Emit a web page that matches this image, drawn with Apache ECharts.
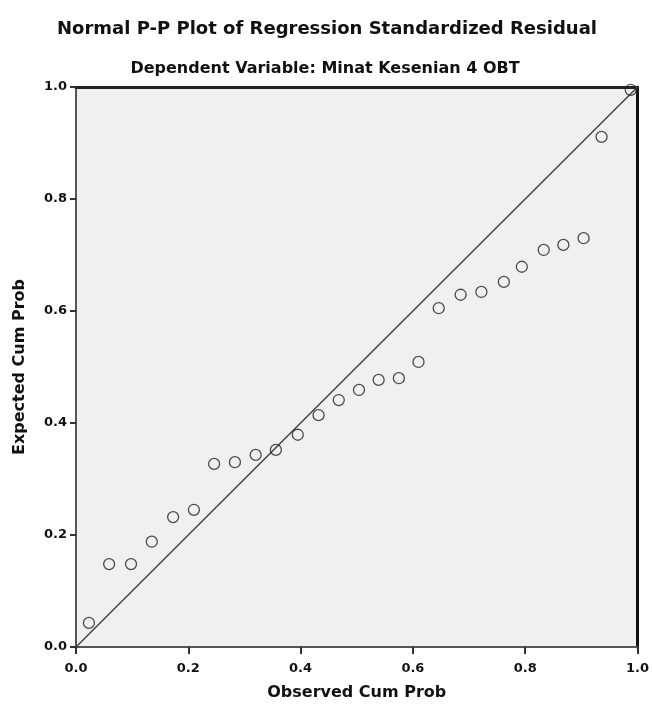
<!DOCTYPE html>
<html>
<head>
<meta charset="utf-8">
<script src="https://cdn.jsdelivr.net/npm/echarts@6/dist/echarts.min.js"></script>
<style>
  html, body { margin: 0; padding: 0; background: #fff; }
  #chart { width: 652px; height: 717px; }
</style>
</head>
<body>
<div id="chart"></div>
<script>
// Normal P-P plot: observed vs expected cumulative probability of the residuals
const observedCumProb = [0.023, 0.059, 0.098, 0.135, 0.173, 0.210, 0.246, 0.283, 0.320,
  0.356, 0.395, 0.432, 0.468, 0.504, 0.539, 0.575, 0.610, 0.646, 0.685, 0.722,
  0.762, 0.794, 0.833, 0.868, 0.904, 0.936, 0.988];
const expectedCumProb = [0.043, 0.148, 0.148, 0.188, 0.232, 0.245, 0.327, 0.330, 0.343,
  0.352, 0.379, 0.414, 0.441, 0.459, 0.477, 0.480, 0.509, 0.605, 0.629, 0.634,
  0.652, 0.679, 0.709, 0.718, 0.730, 0.911, 0.995];
const tickValues = [0.0, 0.2, 0.4, 0.6, 0.8, 1.0];
const diagonal = [[0, 0], [1, 1]];

const points = observedCumProb.map((x, i) => [x, expectedCumProb[i]]);
const fmt = v => Number(v).toFixed(1);
const FONT = '"DejaVu Sans", Arial, sans-serif';

const chart = echarts.init(document.getElementById('chart'));
chart.setOption({
  backgroundColor: '#ffffff',
  animation: false,
  title: [
    {
      text: 'Normal P-P Plot of Regression Standardized Residual',
      left: 322, top: 15, textAlign: 'center',
      textStyle: { fontFamily: FONT, fontSize: 18, fontWeight: 'bold', color: '#111' }
    },
    {
      text: 'Dependent Variable: Minat Kesenian 4 OBT',
      left: 320, top: 56, textAlign: 'center',
      textStyle: { fontFamily: FONT, fontSize: 16, fontWeight: 'bold', color: '#111' }
    }
  ],
  grid: { left: 76, right: 13, top: 87, bottom: 70, show: true, backgroundColor: '#f0f0f0', borderWidth: 0 },
  xAxis: [
    {
      type: 'value', min: 0, max: 1, interval: 0.2,
      name: 'Observed Cum Prob', nameLocation: 'middle', nameGap: 38,
      nameTextStyle: { fontFamily: FONT, fontSize: 16, fontWeight: 'bold', color: '#111' },
      axisLine: { show: true, lineStyle: { color: '#555', width: 2 } },
      axisTick: { show: true, length: 7, lineStyle: { color: '#333', width: 2 } },
      axisLabel: { formatter: fmt, fontFamily: FONT, fontSize: 13, fontWeight: 'bold', color: '#111', margin: 15 },
      splitLine: { show: false }
    },
    {
      type: 'value', min: 0, max: 1, position: 'top',
      axisLine: { show: true, onZero: false, lineStyle: { color: '#222', width: 3 } },
      axisTick: { show: false }, axisLabel: { show: false }, splitLine: { show: false }
    }
  ],
  yAxis: [
    {
      type: 'value', min: 0, max: 1, interval: 0.2,
      name: 'Expected Cum Prob', nameLocation: 'middle', nameGap: 48, nameRotate: 90,
      nameTextStyle: { fontFamily: FONT, fontSize: 16, fontWeight: 'bold', color: '#111' },
      axisLine: { show: true, lineStyle: { color: '#555', width: 2 } },
      axisTick: { show: true, length: 6, lineStyle: { color: '#333', width: 2 } },
      axisLabel: { formatter: fmt, fontFamily: FONT, fontSize: 13, fontWeight: 'bold', color: '#111', margin: 9 },
      splitLine: { show: false }
    },
    {
      type: 'value', min: 0, max: 1, position: 'right',
      axisLine: { show: true, onZero: false, lineStyle: { color: '#111', width: 3 } },
      axisTick: { show: false }, axisLabel: { show: false }, splitLine: { show: false }
    }
  ],
  series: [
    {
      type: 'line',
      data: diagonal,
      symbol: 'none',
      lineStyle: { color: '#444', width: 1.5 },
      silent: true,
      z: 2
    },
    {
      type: 'scatter',
      data: points,
      symbol: 'circle',
      symbolSize: 11,
      itemStyle: { color: 'rgba(0,0,0,0)', borderColor: '#222', borderWidth: 1.3 },
      z: 3
    }
  ]
});
</script>
</body>
</html>
